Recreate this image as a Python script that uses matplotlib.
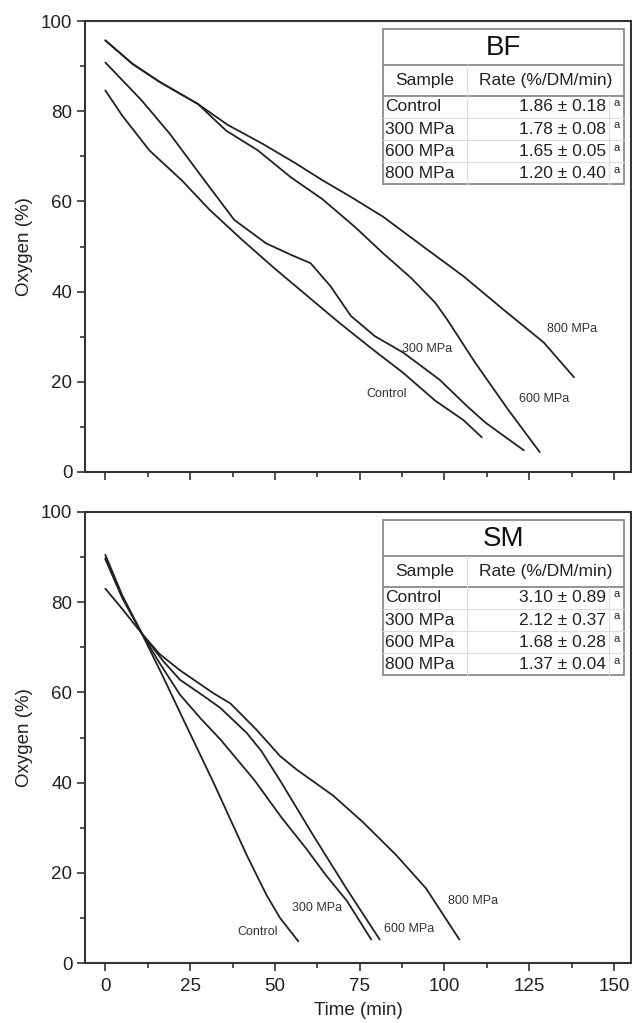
import matplotlib
matplotlib.use("Agg")
import matplotlib.pyplot as plt
from matplotlib.ticker import MultipleLocator
from matplotlib.lines import Line2D

plt.rcParams['font.family'] = ['Liberation Sans', 'DejaVu Sans']

# ---------------- data ----------------
# BF panel: time (min) and oxygen (%)
bf_ctrl_t = [0, 5, 13, 22.5, 30.8, 40.3, 49.8, 59.3, 68.8, 78.3, 87.8, 97.3, 105.6, 111]
bf_ctrl_o = [84.6, 79.0, 71.3, 64.7, 58.1, 51.5, 45.2, 39.2, 33.2, 27.5, 22.0, 15.8, 11.5, 7.7]
bf_300_t = [0, 10.7, 19, 28.5, 38, 47.4, 54.6, 60.5, 66.4, 72.4, 79.5, 87.8, 98.5, 106.8, 112, 117.5, 123.4]
bf_300_o = [90.8, 82.4, 75, 65.4, 55.9, 50.7, 48.2, 46.3, 41.2, 34.6, 30.1, 26.5, 20.5, 14.5, 11.0, 8.0, 4.8]
bf_600_t = [0, 8, 16, 27.3, 35.6, 45, 54.6, 64, 73.5, 81.9, 90.2, 97.3, 100.8, 109, 118.6, 128.1]
bf_600_o = [95.7, 90.5, 86.5, 81.6, 75.7, 71.3, 65.4, 60.5, 54.4, 48.5, 43.0, 37.5, 33.8, 24.3, 14.0, 4.4]
bf_800_t = [0, 8, 16, 27.3, 36, 46.3, 56, 64, 72.4, 81.9, 93.7, 105.6, 117.4, 129.3, 138.2]
bf_800_o = [95.7, 90.5, 86.5, 81.6, 77.0, 72.8, 68.5, 64.7, 61.0, 56.6, 50.0, 43.4, 36.0, 28.7, 21.0]

# SM panel
sm_ctrl_t = [0, 5, 10.8, 17, 23.5, 31.9, 41.7, 47.5, 51.5, 56.9]
sm_ctrl_o = [89.5, 81.0, 73.0, 63.5, 53.2, 40.0, 23.9, 15.1, 10.0, 4.8]
sm_300_t = [0, 5, 10.8, 16, 22, 28, 34, 44, 52, 59.3, 65, 71.2, 78.4]
sm_300_o = [89.8, 81.0, 73.0, 66.5, 59.5, 54.3, 49.5, 40.5, 32.2, 25.3, 19.5, 13.8, 5.2]
sm_600_t = [0, 5, 10.8, 17, 22, 29, 34, 41.7, 46, 51.5, 61.3, 71.1, 80.9]
sm_600_o = [90.5, 81.5, 73.0, 67.0, 62.8, 59.2, 56.5, 51.0, 47.0, 40.5, 28.3, 16.5, 5.2]
sm_800_t = [0, 5, 10.8, 16, 22, 31.9, 36.8, 44.6, 51.5, 56.4, 67.2, 76, 85.8, 94.6, 104.4]
sm_800_o = [83.0, 78.5, 73.0, 68.5, 64.9, 59.8, 57.6, 51.7, 45.9, 42.9, 37.1, 31.2, 23.9, 16.5, 5.2]

samples = ["Control", "300 MPa", "600 MPa", "800 MPa"]
bf_rates = ["1.86 ± 0.18", "1.78 ± 0.08", "1.65 ± 0.05", "1.20 ± 0.40"]
sm_rates = ["3.10 ± 0.89", "2.12 ± 0.37", "1.68 ± 0.28", "1.37 ± 0.04"]
bf_letters = ["a", "a", "a", "a"]
sm_letters = ["a", "a", "a", "a"]

x_ticks = [0, 25, 50, 75, 100, 125, 150]
y_ticks = [0, 20, 40, 60, 80, 100]

# ---------------- layout ----------------
W, H = 632, 1023
fig = plt.figure(figsize=(W / 100, H / 100), dpi=100)
LC = '#222222'
left, right = 85, 631
ax1 = fig.add_axes([left / W, 1 - 472 / H, (right - left) / W, 451 / H])
ax2 = fig.add_axes([left / W, 1 - 963 / H, (right - left) / W, 451 / H])

bf_label_pos = {"Control": (83, 17.3), "300 MPa": (95, 27.2), "600 MPa": (129.3, 16.2), "800 MPa": (137.6, 31.6)}
sm_label_pos = {"Control": (45, 6.8), "300 MPa": (62.3, 12.3), "600 MPa": (89.6, 7.6), "800 MPa": (108.5, 13.8)}


def style(ax, show_xlabels):
    ax.set_xlim(-6, 155)
    ax.set_ylim(0, 100)
    ax.xaxis.set_minor_locator(MultipleLocator(12.5))
    ax.yaxis.set_minor_locator(MultipleLocator(10))
    ax.set_xticks(x_ticks)
    ax.set_yticks(y_ticks)
    ax.tick_params(which='both', direction='out', color='#333333', width=1.2,
                   top=False, right=False)
    ax.tick_params(which='major', length=6, labelsize=13.5, labelcolor='#222222', pad=3)
    ax.tick_params(axis='x', which='major', pad=5)
    ax.tick_params(which='minor', length=3.5)
    if not show_xlabels:
        ax.tick_params(axis='x', labelbottom=False)
    for s in ax.spines.values():
        s.set_linewidth(1.5)
        s.set_color('#333333')
    ax.set_ylabel("Oxygen (%)", fontsize=13.5, color='#222222', labelpad=6)


def draw_table(ax, title, rates, letters):
    x0, x1 = 82.0, 153.0
    xc, xa = 106.5, 148.5
    y_title_top, y_title_bot, y_head_bot, y_bot = 98.3, 90.3, 83.4, 63.8
    row_h = (y_head_bot - y_bot) / 4
    tr = ax.transData
    kw = dict(transform=tr, zorder=5)
    ax.add_patch(plt.Rectangle((x0, y_bot), x1 - x0, y_title_top - y_bot, facecolor='white',
                               edgecolor='#8a8a8a', lw=1.3, **kw))
    ax.add_line(Line2D([x0, x1], [y_title_bot] * 2, color='#8a8a8a', lw=1.3, **kw))
    ax.add_line(Line2D([x0, x1], [y_head_bot] * 2, color='#8a8a8a', lw=1.3, **kw))
    ax.add_line(Line2D([xc, xc], [y_bot, y_title_bot], color='#dddddd', lw=0.8, **kw))
    ax.add_line(Line2D([xa, xa], [y_bot, y_head_bot], color='#dddddd', lw=0.8, **kw))
    for i in range(1, 4):
        yy = y_head_bot - i * row_h
        ax.add_line(Line2D([x0, x1], [yy, yy], color='#dddddd', lw=0.8, **kw))
    ax.text((x0 + x1) / 2, (y_title_top + y_title_bot) / 2 - 0.2, title, fontsize=20,
            ha='center', va='center', color='#111111', transform=tr, zorder=6)
    ax.text((x0 + xc) / 2, (y_title_bot + y_head_bot) / 2, "Sample", fontsize=12.5,
            ha='center', va='center', color='#222222', transform=tr, zorder=6)
    ax.text((xc + x1) / 2, (y_title_bot + y_head_bot) / 2, "Rate (%/DM/min)", fontsize=12.5,
            ha='center', va='center', color='#222222', transform=tr, zorder=6)
    for i, (s, r, l) in enumerate(zip(samples, rates, letters)):
        yc = y_head_bot - (i + 0.5) * row_h
        ax.text(x0 + 0.6, yc, s, fontsize=12.5, ha='left', va='center',
                color='#222222', transform=tr, zorder=6)
        ax.text(xa - 0.8, yc, r, fontsize=12.5, ha='right', va='center',
                color='#222222', transform=tr, zorder=6)
        ax.text((xa + x1) / 2, yc + 0.8, l, fontsize=8, ha='center', va='center',
                color='#222222', transform=tr, zorder=6)


for ax, series, labpos in [
    (ax1, [(bf_ctrl_t, bf_ctrl_o), (bf_300_t, bf_300_o), (bf_600_t, bf_600_o), (bf_800_t, bf_800_o)], bf_label_pos),
    (ax2, [(sm_ctrl_t, sm_ctrl_o), (sm_300_t, sm_300_o), (sm_600_t, sm_600_o), (sm_800_t, sm_800_o)], sm_label_pos),
]:
    for name, (t, o) in zip(samples, series):
        ax.plot(t, o, color=LC, lw=1.3, solid_joinstyle='round', solid_capstyle='round')
        lx, ly = labpos[name]
        ax.text(lx, ly, name, fontsize=9, ha='center', va='center', color='#333333')

style(ax1, False)
style(ax2, True)
ax2.set_xlabel("Time (min)", fontsize=13.5, color='#222222', labelpad=5)
draw_table(ax1, "BF", bf_rates, bf_letters)
draw_table(ax2, "SM", sm_rates, sm_letters)

fig.savefig("out.png", dpi=100)
